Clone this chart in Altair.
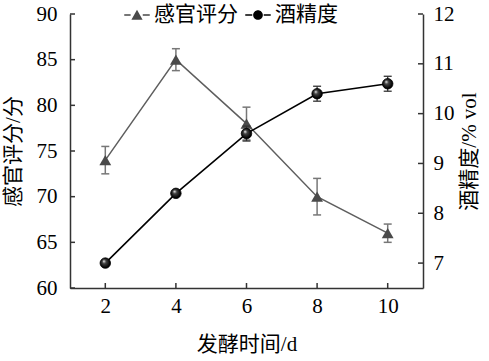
import altair as alt
import pandas as pd

# ---- data ----
days = [2, 4, 6, 8, 10]
sensory = [74.0, 85.0, 78.0, 70.0, 66.0]
sensory_err = [1.5, 1.2, 1.8, 2.0, 1.0]
alcohol = [7.0, 8.4, 9.6, 10.4, 10.6]
alcohol_err = [0.05, 0.05, 0.15, 0.15, 0.15]
series_names = ["感官评分", "酒精度"]
x_ticks = [2, 4, 6, 8, 10]
left_ticks = [60, 65, 70, 75, 80, 85, 90]
right_ticks = [7, 8, 9, 10, 11, 12]

W, H = 353, 274
FONT = "Liberation Serif, Noto Sans CJK SC"
GRAY = "#4a4a4a"
LINE_GRAY = "#5e5e5e"

df_s = pd.DataFrame({
    "day": days, "v": sensory,
    "lo": [v - e for v, e in zip(sensory, sensory_err)],
    "hi": [v + e for v, e in zip(sensory, sensory_err)],
    "series": series_names[0],
})
df_a = pd.DataFrame({
    "day": days, "v": alcohol,
    "lo": [v - e for v, e in zip(alcohol, alcohol_err)],
    "hi": [v + e for v, e in zip(alcohol, alcohol_err)],
})
df_xt = pd.DataFrame({"t": x_ticks})
df_lt = pd.DataFrame({"t": left_ticks})
df_rt = pd.DataFrame({"t": right_ticks})


def X(field):
    return alt.X(f"{field}:Q",
                 scale=alt.Scale(domain=[1, 11], nice=False, zero=False),
                 axis=alt.Axis(values=x_ticks, ticks=False, tickSize=0, title="发酵时间/d",
                               labelPadding=7, titlePadding=17, format="d"))


def YL(field):
    return alt.Y(f"{field}:Q",
                 scale=alt.Scale(domain=[60, 90], nice=False, zero=False),
                 axis=alt.Axis(values=left_ticks, ticks=False, tickSize=0, title="感官评分/分",
                               labelPadding=13, titlePadding=13))


def YR(field):
    return alt.Y(f"{field}:Q",
                 scale=alt.Scale(domain=[6.5, 12], nice=False, zero=False),
                 axis=alt.Axis(orient="right", values=right_ticks, ticks=False, tickSize=0,
                               title="酒精度/% vol", titleAngle=270,
                               labelPadding=10, titlePadding=25))


tri_path = ("M-1,-0.06H-0.5V0.06H-1Z M0.45,-0.06H1V0.06H0.45Z "
            "M0,-0.42L0.44,0.38L-0.44,0.38Z")
circ_path = ("M-1,-0.06H-0.45V0.06H-1Z M0.45,-0.06H1V0.06H0.45Z "
             "M0.38,0A0.38,0.38 0 1,1 -0.38,0A0.38,0.38 0 1,1 0.38,0Z")

legend = alt.Legend(orient="none", legendX=54, legendY=-12, direction="horizontal",
                    title=None, symbolSize=650, symbolStrokeWidth=0, symbolOpacity=1,
                    labelFont=FONT, labelFontSize=21, labelColor="#000",
                    labelOffset=4, columnPadding=7)

TICK_GRAY = "#777777"

# ---- sensory (left axis) ----
s_line = alt.Chart(df_s).mark_line(color=LINE_GRAY, strokeWidth=1.5).encode(x=X("day"), y=YL("v"))
s_err = alt.Chart(df_s).mark_rule(color=TICK_GRAY, strokeWidth=1.5).encode(x=X("day"), y=YL("lo"), y2="hi")
s_cap_hi = alt.Chart(df_s).mark_tick(color=TICK_GRAY, size=8, thickness=1.5, orient="horizontal",
                                     opacity=1).encode(x=X("day"), y=YL("hi"))
s_cap_lo = alt.Chart(df_s).mark_tick(color=TICK_GRAY, size=8, thickness=1.5, orient="horizontal",
                                     opacity=1).encode(x=X("day"), y=YL("lo"))
s_pts = alt.Chart(df_s).mark_point(shape="triangle-up", filled=True, color=GRAY, size=140,
                                   opacity=1).encode(x=X("day"), y=YL("v"))
s_leg = alt.Chart(df_s).mark_point(filled=True, opacity=0).encode(
    x=X("day"), y=YL("v"),
    shape=alt.Shape("series:N", scale=alt.Scale(domain=series_names, range=[tri_path, circ_path]),
                    legend=legend),
    color=alt.Color("series:N", scale=alt.Scale(domain=series_names, range=[GRAY, "#000000"]),
                    legend=legend),
)
l_ticks = alt.Chart(df_lt).mark_rule(color="#333333", strokeWidth=1.5).encode(
    y=YL("t"), x=alt.value(0), x2=alt.value(5))
x_tick_marks = alt.Chart(df_xt).mark_rule(color="#333333", strokeWidth=1.5).encode(
    x=X("t"), y=alt.value(H - 5), y2=alt.value(H))

sensory_layer = alt.layer(l_ticks, x_tick_marks, s_line, s_err, s_cap_hi, s_cap_lo, s_pts, s_leg)

# ---- alcohol (right axis) ----
sphere = alt.Gradient(
    gradient="radial",
    stops=[alt.GradientStop(color="#ffffff", offset=0),
           alt.GradientStop(color="#444444", offset=0.3),
           alt.GradientStop(color="#000000", offset=0.8)],
    x1=0.35, y1=0.3, r1=0, x2=0.5, y2=0.5, r2=0.6,
)
a_line = alt.Chart(df_a).mark_line(color="#000000", strokeWidth=1.6).encode(x=X("day"), y=YR("v"))
a_err = alt.Chart(df_a).mark_rule(color="#333333", strokeWidth=1.3).encode(x=X("day"), y=YR("lo"), y2="hi")
a_cap_hi = alt.Chart(df_a).mark_tick(color="#333333", size=8, thickness=1.3, orient="horizontal",
                                     opacity=1).encode(x=X("day"), y=YR("hi"))
a_cap_lo = alt.Chart(df_a).mark_tick(color="#333333", size=8, thickness=1.3, orient="horizontal",
                                     opacity=1).encode(x=X("day"), y=YR("lo"))
a_pts = alt.Chart(df_a).mark_point(shape="circle", filled=True, fill=sphere, stroke="#000000",
                                   strokeWidth=0.8, size=110, opacity=1).encode(x=X("day"), y=YR("v"))
r_ticks = alt.Chart(df_rt).mark_rule(color="#333333", strokeWidth=1.5).encode(
    y=YR("t"), x=alt.value(W - 5), x2=alt.value(W))

alcohol_layer = alt.layer(r_ticks, a_line, a_err, a_cap_hi, a_cap_lo, a_pts)

chart = (
    alt.layer(sensory_layer, alcohol_layer)
    .resolve_scale(y="independent")
    .properties(width=W, height=H, background="white",
                autosize=alt.AutoSizeParams(type="none"),
                padding={"left": 70, "top": 14, "right": 66, "bottom": 73})
    .configure_axis(labelFont=FONT, titleFont=FONT, labelFontSize=21, titleFontSize=21,
                    labelColor="#000000", titleColor="#000000", titleFontWeight="normal",
                    domainColor="#333333", domainWidth=1.5, grid=False)
    .configure_view(stroke=None)
)

chart.save("out.html", embed_options={"renderer": "svg", "actions": False})
